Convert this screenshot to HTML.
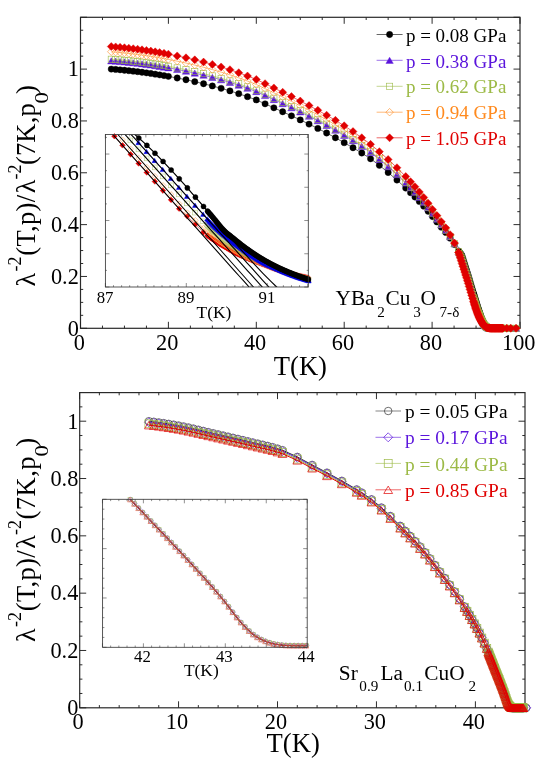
<!DOCTYPE html>
<html><head><meta charset="utf-8"><title>Superfluid density vs temperature</title>
<style>html,body{margin:0;padding:0;background:#fff}body{width:545px;height:771px;overflow:hidden;font-family:"Liberation Serif",serif}svg{display:block;will-change:transform;transform:translateZ(0)}</style>
</head><body>
<svg width="545" height="771" viewBox="0 0 545 771">
<defs>
<marker id="a1" markerUnits="userSpaceOnUse" markerWidth="8.3" markerHeight="8.3" viewBox="-4.15 -4.15 8.3 8.3" refX="0" refY="0" overflow="visible"><circle cx="0" cy="0" r="3.15" fill="#000" stroke="#000" stroke-width="0.4"/></marker>
<marker id="a2" markerUnits="userSpaceOnUse" markerWidth="9.4" markerHeight="9.4" viewBox="-4.7 -4.7 9.4 9.4" refX="0" refY="0" overflow="visible"><path d="M0 -3.1 L3.7 3.1 L-3.7 3.1 Z" fill="#5a14dc" stroke="#5a14dc" stroke-width="0.4"/></marker>
<marker id="a3" markerUnits="userSpaceOnUse" markerWidth="8.2" markerHeight="8.2" viewBox="-4.1 -4.1 8.2 8.2" refX="0" refY="0" overflow="visible"><rect x="-3.1" y="-3.1" width="6.2" height="6.2" fill="none" stroke="#9cba46" stroke-width="0.6"/></marker>
<marker id="a4" markerUnits="userSpaceOnUse" markerWidth="9.5" markerHeight="9.5" viewBox="-4.75 -4.75 9.5 9.5" refX="0" refY="0" overflow="visible"><path d="M0 -3.75 L3.75 0 L0 3.75 L-3.75 0Z" fill="none" stroke="#ff8a1e" stroke-width="0.6"/></marker>
<marker id="a5" markerUnits="userSpaceOnUse" markerWidth="10" markerHeight="10" viewBox="-5 -5 10 10" refX="0" refY="0" overflow="visible"><path d="M0 -4 L4 0 L0 4 L-4 0Z" fill="#e00000" stroke="#e00000" stroke-width="0.4"/></marker>
<marker id="b1" markerUnits="userSpaceOnUse" markerWidth="7.1" markerHeight="7.1" viewBox="-3.55 -3.55 7.1 7.1" refX="0" refY="0" overflow="visible"><circle cx="0" cy="0" r="2.55" fill="#000" stroke="#000" stroke-width="0.4"/></marker>
<marker id="b2" markerUnits="userSpaceOnUse" markerWidth="7.2" markerHeight="7.2" viewBox="-3.6 -3.6 7.2 7.2" refX="0" refY="0" overflow="visible"><path d="M0 -2.2 L2.6 2.2 L-2.6 2.2 Z" fill="#0000e0" stroke="#0000e0" stroke-width="0.4"/></marker>
<marker id="b3" markerUnits="userSpaceOnUse" markerWidth="6.8" markerHeight="6.8" viewBox="-3.4 -3.4 6.8 6.8" refX="0" refY="0" overflow="visible"><rect x="-2.4" y="-2.4" width="4.8" height="4.8" fill="none" stroke="#a8c45c" stroke-width="0.45"/></marker>
<marker id="b4" markerUnits="userSpaceOnUse" markerWidth="7.6" markerHeight="7.6" viewBox="-3.8 -3.8 7.6 7.6" refX="0" refY="0" overflow="visible"><path d="M0 -2.8 L2.8 0 L0 2.8 L-2.8 0Z" fill="none" stroke="#ff9a40" stroke-width="0.5"/></marker>
<marker id="b5" markerUnits="userSpaceOnUse" markerWidth="7.6" markerHeight="7.6" viewBox="-3.8 -3.8 7.6 7.6" refX="0" refY="0" overflow="visible"><path d="M0 -2.8 L2.8 0 L0 2.8 L-2.8 0Z" fill="#e00000" stroke="#e00000" stroke-width="0.4"/></marker>
<marker id="c1" markerUnits="userSpaceOnUse" markerWidth="9.5" markerHeight="9.5" viewBox="-4.75 -4.75 9.5 9.5" refX="0" refY="0" overflow="visible"><circle cx="0" cy="0" r="3.75" fill="none" stroke="#333" stroke-width="0.7"/></marker>
<marker id="c2" markerUnits="userSpaceOnUse" markerWidth="11" markerHeight="11" viewBox="-5.5 -5.5 11 11" refX="0" refY="0" overflow="visible"><path d="M0 -4.5 L4.5 0 L0 4.5 L-4.5 0Z" fill="none" stroke="#5a14dc" stroke-width="0.7"/></marker>
<marker id="c3" markerUnits="userSpaceOnUse" markerWidth="9.9" markerHeight="9.9" viewBox="-4.95 -4.95 9.9 9.9" refX="0" refY="0" overflow="visible"><rect x="-3.95" y="-3.95" width="7.9" height="7.9" fill="none" stroke="#9cba46" stroke-width="0.7"/></marker>
<marker id="c4" markerUnits="userSpaceOnUse" markerWidth="10.8" markerHeight="10.8" viewBox="-5.4 -5.4 10.8 10.8" refX="0" refY="0" overflow="visible"><path d="M0 -3.7 L4.4 3.7 L-4.4 3.7 Z" fill="none" stroke="#e00000" stroke-width="0.7"/></marker>
<marker id="d1" markerUnits="userSpaceOnUse" markerWidth="6.4" markerHeight="6.4" viewBox="-3.2 -3.2 6.4 6.4" refX="0" refY="0" overflow="visible"><circle cx="0" cy="0" r="2.2" fill="none" stroke="#666" stroke-width="0.45"/></marker>
<marker id="d2" markerUnits="userSpaceOnUse" markerWidth="7.4" markerHeight="7.4" viewBox="-3.7 -3.7 7.4 7.4" refX="0" refY="0" overflow="visible"><path d="M0 -2.7 L2.7 0 L0 2.7 L-2.7 0Z" fill="none" stroke="#7a48e4" stroke-width="0.45"/></marker>
<marker id="d3" markerUnits="userSpaceOnUse" markerWidth="6.4" markerHeight="6.4" viewBox="-3.2 -3.2 6.4 6.4" refX="0" refY="0" overflow="visible"><rect x="-2.2" y="-2.2" width="4.4" height="4.4" fill="none" stroke="#a8c45c" stroke-width="0.45"/></marker>
<marker id="d4" markerUnits="userSpaceOnUse" markerWidth="7.2" markerHeight="7.2" viewBox="-3.6 -3.6 7.2 7.2" refX="0" refY="0" overflow="visible"><path d="M0 -2.3 L2.6 2.3 L-2.6 2.3 Z" fill="none" stroke="#ee4a4a" stroke-width="0.5"/></marker>

</defs>
<rect width="545" height="771" fill="#fff"/>
<rect x="80.5" y="17.3" width="439.5" height="311" fill="none" stroke="#2a2a2a" stroke-width="1.2"/>
<path d="M80.5 328.3L80.5 321.8M80.5 17.3L80.5 23.8M102.47 328.3L102.47 325.6M102.47 17.3L102.47 20M124.45 328.3L124.45 325.6M124.45 17.3L124.45 20M146.43 328.3L146.43 325.6M146.43 17.3L146.43 20M168.4 328.3L168.4 321.8M168.4 17.3L168.4 23.8M190.38 328.3L190.38 325.6M190.38 17.3L190.38 20M212.35 328.3L212.35 325.6M212.35 17.3L212.35 20M234.32 328.3L234.32 325.6M234.32 17.3L234.32 20M256.3 328.3L256.3 321.8M256.3 17.3L256.3 23.8M278.27 328.3L278.27 325.6M278.27 17.3L278.27 20M300.25 328.3L300.25 325.6M300.25 17.3L300.25 20M322.23 328.3L322.23 325.6M322.23 17.3L322.23 20M344.2 328.3L344.2 321.8M344.2 17.3L344.2 23.8M366.18 328.3L366.18 325.6M366.18 17.3L366.18 20M388.15 328.3L388.15 325.6M388.15 17.3L388.15 20M410.12 328.3L410.12 325.6M410.12 17.3L410.12 20M432.1 328.3L432.1 321.8M432.1 17.3L432.1 23.8M454.07 328.3L454.07 325.6M454.07 17.3L454.07 20M476.05 328.3L476.05 325.6M476.05 17.3L476.05 20M498.02 328.3L498.02 325.6M498.02 17.3L498.02 20M520 328.3L520 321.8M520 17.3L520 23.8M80.5 328.3L87 328.3M520 328.3L513.5 328.3M80.5 315.34L83.2 315.34M520 315.34L517.3 315.34M80.5 302.38L83.2 302.38M520 302.38L517.3 302.38M80.5 289.42L83.2 289.42M520 289.42L517.3 289.42M80.5 276.46L87 276.46M520 276.46L513.5 276.46M80.5 263.5L83.2 263.5M520 263.5L517.3 263.5M80.5 250.54L83.2 250.54M520 250.54L517.3 250.54M80.5 237.58L83.2 237.58M520 237.58L517.3 237.58M80.5 224.62L87 224.62M520 224.62L513.5 224.62M80.5 211.66L83.2 211.66M520 211.66L517.3 211.66M80.5 198.7L83.2 198.7M520 198.7L517.3 198.7M80.5 185.74L83.2 185.74M520 185.74L517.3 185.74M80.5 172.78L87 172.78M520 172.78L513.5 172.78M80.5 159.82L83.2 159.82M520 159.82L517.3 159.82M80.5 146.86L83.2 146.86M520 146.86L517.3 146.86M80.5 133.9L83.2 133.9M520 133.9L517.3 133.9M80.5 120.94L87 120.94M520 120.94L513.5 120.94M80.5 107.98L83.2 107.98M520 107.98L517.3 107.98M80.5 95.02L83.2 95.02M520 95.02L517.3 95.02M80.5 82.06L83.2 82.06M520 82.06L517.3 82.06M80.5 69.1L87 69.1M520 69.1L513.5 69.1M80.5 56.14L83.2 56.14M520 56.14L517.3 56.14M80.5 43.18L83.2 43.18M520 43.18L517.3 43.18M80.5 30.22L83.2 30.22M520 30.22L517.3 30.22M80.5 17.26L87 17.26M520 17.26L513.5 17.26" stroke="#222" stroke-width="0.95" fill="none"/>
<polyline points="111.27,69.1 115.66,69.44 120.06,69.83 124.45,70.25 128.84,70.7 133.24,71.18 137.63,71.69 142.03,72.24 146.43,72.83 150.82,73.47 155.22,74.14 159.61,74.85 164,75.59 168.4,76.36 177.19,77.99 185.98,79.76 194.77,81.68 203.56,83.74 212.35,85.95 221.14,88.32 229.93,90.89 238.72,93.68 247.51,96.69 256.3,99.94 265.09,103.83 273.88,107.8 282.67,111.77 291.46,115.79 300.25,119.89 309.04,124.1 317.83,128.46 326.62,133.01 335.41,137.77 344.2,142.71 352.99,147.76 361.78,153.02 370.57,158.78 379.36,165.31 388.15,172.5 396.94,180.04 405.73,188.07 410.56,192.65 414.96,196.98 419.35,201.47 423.75,206.18 428.14,211.25 432.54,216.57 436.93,221.95 441.33,227.2 445.72,232.42 450.12,238.18 454.51,244.48 458.56,250.98 459.44,252.08 460.32,253.1 461.19,254.3 462.07,255.98 462.95,258.42 463.83,261.31 464.71,264.2 465.59,267.04 466.47,269.85 467.35,272.67 468.23,275.49 469.11,278.34 469.98,281.22 470.86,284.16 471.74,287.17 472.62,290.2 473.5,293.22 473.94,294.7 474.38,296.16 474.82,297.6 475.26,299.03 475.7,300.47 476.14,301.91 476.58,303.35 477.02,304.78 477.46,306.18 477.9,307.55 478.34,308.88 478.77,310.2 479.21,311.5 479.65,312.77 480.09,313.99 480.53,315.21 480.97,316.41 481.41,317.58 481.85,318.71 482.29,319.78 482.73,320.78 483.17,321.7 483.61,322.54 484.05,323.34 484.49,324.1 484.93,324.8 485.37,325.41 485.81,325.93 486.25,326.35 486.69,326.72 487.13,327.07 487.56,327.38 488,327.65 488.44,327.86 488.88,328 489.32,328.08 489.76,328.14 490.2,328.2 490.64,328.24 491.08,328.28 491.52,328.29 491.96,328.3 492.4,328.3 492.84,328.3 493.28,328.3 493.72,328.3 494.16,328.3 494.6,328.3 495.04,328.3 495.48,328.3 495.92,328.3 496.35,328.3 496.79,328.3 497.23,328.3 497.67,328.3 498.11,328.3 498.55,328.3 498.99,328.3 499.43,328.3 499.87,328.3 500.31,328.3 500.75,328.3 501.19,328.3 501.63,328.3 502.07,328.3 502.51,328.3 502.95,328.3 506.81,328.3 510.77,328.3 516.04,328.3" fill="none" stroke="#000" stroke-width="0.6" marker-start="url(#a1)" marker-mid="url(#a1)" marker-end="url(#a1)"/>
<polyline points="111.27,60.81 115.66,61.12 120.06,61.48 124.45,61.88 128.84,62.31 133.24,62.77 137.63,63.26 142.03,63.78 146.43,64.36 150.82,64.98 155.22,65.64 159.61,66.33 164,67.06 168.4,67.82 177.19,69.43 185.98,71.19 194.77,73.11 203.56,75.17 212.35,77.38 221.14,79.76 229.93,82.36 238.72,85.18 247.51,88.24 256.3,91.54 265.09,95.5 273.88,99.55 282.67,103.61 291.46,107.72 300.25,111.91 309.04,116.23 317.83,120.69 326.62,125.34 335.41,130.21 344.2,135.34 352.99,140.71 361.78,146.38 370.57,152.52 379.36,159.37 388.15,166.84 396.94,174.68 405.73,183.06 410.56,187.89 414.96,192.51 419.35,197.33 423.75,202.38 428.14,207.78 432.54,213.45 436.93,219.19 441.33,224.81 445.72,230.42 450.12,236.66 454.51,243.83 458.56,251.41 459.44,252.91 460.32,254.41 461.19,256.08 462.07,258.12 462.95,260.72 463.83,263.63 464.71,266.48 465.59,269.29 466.47,272.1 467.35,274.92 468.23,277.77 469.11,280.64 469.98,283.56 470.86,286.56 471.74,289.6 472.62,292.62 473.5,295.58 473.94,297.03 474.38,298.45 474.82,299.89 475.26,301.33 475.7,302.78 476.14,304.21 476.58,305.62 477.02,307 477.46,308.35 477.9,309.66 478.34,310.91 478.77,312.13 479.21,313.3 479.65,314.45 480.09,315.6 480.53,316.72 480.97,317.82 481.41,318.88 481.85,319.89 482.29,320.83 482.73,321.7 483.17,322.51 483.61,323.29 484.05,324.02 484.49,324.7 484.93,325.31 485.37,325.83 485.81,326.25 486.25,326.61 486.69,326.95 487.13,327.26 487.56,327.53 488,327.76 488.44,327.93 488.88,328.04 489.32,328.11 489.76,328.16 490.2,328.22 490.64,328.25 491.08,328.28 491.52,328.3 491.96,328.3 492.4,328.3 492.84,328.3 493.28,328.3 493.72,328.3 494.16,328.3 494.6,328.3 495.04,328.3 495.48,328.3 495.92,328.3 496.35,328.3 496.79,328.3 497.23,328.3 497.67,328.3 498.11,328.3 498.55,328.3 498.99,328.3 499.43,328.3 499.87,328.3 500.31,328.3 500.75,328.3 501.19,328.3 501.63,328.3 502.07,328.3 502.51,328.3 502.95,328.3 506.81,328.3 510.77,328.3 516.04,328.3" fill="none" stroke="#5a14dc" stroke-width="0.6" marker-start="url(#a2)" marker-mid="url(#a2)" marker-end="url(#a2)"/>
<polyline points="111.27,59.25 115.66,59.57 120.06,59.93 124.45,60.33 128.84,60.76 133.24,61.23 137.63,61.72 142.03,62.25 146.43,62.82 150.82,63.45 155.22,64.11 159.61,64.81 164,65.55 168.4,66.31 177.19,67.93 185.98,69.7 194.77,71.63 203.56,73.7 212.35,75.93 221.14,78.32 229.93,80.94 238.72,83.77 247.51,86.85 256.3,90.17 265.09,94.16 273.88,98.23 282.67,102.31 291.46,106.45 300.25,110.66 309.04,115 317.83,119.49 326.62,124.17 335.41,129.07 344.2,134.23 352.99,139.64 361.78,145.37 370.57,151.58 379.36,158.47 388.15,165.99 396.94,173.87 405.73,182.31 410.56,187.17 414.96,191.84 419.35,196.7 423.75,201.8 428.14,207.26 432.54,212.98 436.93,218.77 441.33,224.44 445.72,230.11 450.12,236.43 454.51,243.75 458.56,251.72 459.44,253.55 460.32,255.42 461.19,257.45 462.07,259.76 462.95,262.46 463.83,265.35 464.71,268.17 465.59,270.98 466.47,273.79 467.35,276.63 468.23,279.49 469.11,282.38 469.98,285.36 470.86,288.38 471.74,291.42 472.62,294.41 473.5,297.31 473.94,298.74 474.38,300.18 474.82,301.62 475.26,303.06 475.7,304.49 476.14,305.9 476.58,307.28 477.02,308.62 477.46,309.91 477.9,311.15 478.34,312.33 478.77,313.46 479.21,314.57 479.65,315.68 480.09,316.76 480.53,317.81 480.97,318.83 481.41,319.8 481.85,320.71 482.29,321.56 482.73,322.35 483.17,323.1 483.61,323.83 484.05,324.51 484.49,325.12 484.93,325.65 485.37,326.09 485.81,326.45 486.25,326.79 486.69,327.11 487.13,327.39 487.56,327.64 488,327.83 488.44,327.98 488.88,328.06 489.32,328.12 489.76,328.18 490.2,328.23 490.64,328.26 491.08,328.29 491.52,328.3 491.96,328.3 492.4,328.3 492.84,328.3 493.28,328.3 493.72,328.3 494.16,328.3 494.6,328.3 495.04,328.3 495.48,328.3 495.92,328.3 496.35,328.3 496.79,328.3 497.23,328.3 497.67,328.3 498.11,328.3 498.55,328.3 498.99,328.3 499.43,328.3 499.87,328.3 500.31,328.3 500.75,328.3 501.19,328.3 501.63,328.3 502.07,328.3 502.51,328.3 502.95,328.3 506.81,328.3 510.77,328.3 516.04,328.3" fill="none" stroke="#9cba46" stroke-width="0.6" marker-start="url(#a3)" marker-mid="url(#a3)" marker-end="url(#a3)"/>
<polyline points="111.27,51.73 115.66,52.1 120.06,52.5 124.45,52.94 128.84,53.42 133.24,53.93 137.63,54.47 142.03,55.04 146.43,55.67 150.82,56.35 155.22,57.06 159.61,57.81 164,58.6 168.4,59.41 177.19,61.14 185.98,63.02 194.77,65.06 203.56,67.25 212.35,69.59 221.14,72.12 229.93,74.85 238.72,77.82 247.51,81.02 256.3,84.49 265.09,88.63 273.88,92.85 282.67,97.09 291.46,101.37 300.25,105.74 309.04,110.23 317.83,114.87 326.62,119.7 335.41,124.74 344.2,130.07 352.99,135.69 361.78,141.63 370.57,148.05 379.36,155.12 388.15,162.79 396.94,170.85 405.73,179.48 410.56,184.48 414.96,189.31 419.35,194.36 423.75,199.66 428.14,205.3 432.54,211.22 436.93,217.22 441.33,223.09 445.72,228.98 450.12,235.57 454.51,243.39 458.56,252.2 459.44,254.53 460.32,256.98 461.19,259.55 462.07,262.24 462.95,265.06 463.83,267.88 464.71,270.7 465.59,273.51 466.47,276.34 467.35,279.2 468.23,282.09 469.11,285.06 469.98,288.08 470.86,291.11 471.74,294.11 472.62,297.03 473.5,299.89 473.94,301.33 474.38,302.78 474.82,304.21 475.26,305.62 475.7,307 476.14,308.35 476.58,309.66 477.02,310.91 477.46,312.1 477.9,313.23 478.34,314.31 478.77,315.38 479.21,316.42 479.65,317.43 480.09,318.41 480.53,319.35 480.97,320.24 481.41,321.07 481.85,321.85 482.29,322.57 482.73,323.28 483.17,323.96 483.61,324.59 484.05,325.17 484.49,325.67 484.93,326.09 485.37,326.43 485.81,326.75 486.25,327.05 486.69,327.33 487.13,327.57 487.56,327.77 488,327.93 488.44,328.03 488.88,328.09 489.32,328.15 489.76,328.2 490.2,328.24 490.64,328.27 491.08,328.29 491.52,328.3 491.96,328.3 492.4,328.3 492.84,328.3 493.28,328.3 493.72,328.3 494.16,328.3 494.6,328.3 495.04,328.3 495.48,328.3 495.92,328.3 496.35,328.3 496.79,328.3 497.23,328.3 497.67,328.3 498.11,328.3 498.55,328.3 498.99,328.3 499.43,328.3 499.87,328.3 500.31,328.3 500.75,328.3 501.19,328.3 501.63,328.3 502.07,328.3 502.51,328.3 502.95,328.3 506.81,328.3 510.77,328.3 516.04,328.3" fill="none" stroke="#ff8a1e" stroke-width="0.6" marker-start="url(#a4)" marker-mid="url(#a4)" marker-end="url(#a4)"/>
<polyline points="111.27,46.55 115.66,46.9 120.06,47.3 124.45,47.73 128.84,48.2 133.24,48.71 137.63,49.24 142.03,49.81 146.43,50.43 150.82,51.11 155.22,51.82 159.61,52.57 164,53.35 168.4,54.17 177.19,55.9 185.98,57.79 194.77,59.83 203.56,62.04 212.35,64.4 221.14,66.94 229.93,69.7 238.72,72.7 247.51,75.94 256.3,79.45 265.09,83.65 273.88,87.93 282.67,92.23 291.46,96.58 300.25,101.01 309.04,105.57 317.83,110.29 326.62,115.18 335.41,120.31 344.2,125.75 352.99,131.55 361.78,137.73 370.57,144.37 379.36,151.63 388.15,159.47 396.94,167.7 405.73,176.54 410.56,181.68 414.96,186.69 419.35,191.93 423.75,197.42 428.14,203.27 432.54,209.39 436.93,215.6 441.33,221.68 445.72,227.8 450.12,234.68 454.51,243.01 458.56,252.47 459.44,255.09 460.32,257.86 461.19,260.73 462.07,263.63 462.95,266.48 463.83,269.29 464.71,272.1 465.59,274.92 466.47,277.77 467.35,280.64 468.23,283.56 469.11,286.56 469.98,289.6 470.86,292.62 471.74,295.58 472.62,298.45 473.5,301.33 473.94,302.78 474.38,304.21 474.82,305.62 475.26,307 475.7,308.35 476.14,309.66 476.58,310.91 477.02,312.1 477.46,313.23 477.9,314.31 478.34,315.37 478.77,316.4 479.21,317.4 479.65,318.36 480.09,319.28 480.53,320.15 480.97,320.96 481.41,321.72 481.85,322.43 482.29,323.11 482.73,323.78 483.17,324.4 483.61,324.98 484.05,325.49 484.49,325.93 484.93,326.29 485.37,326.61 485.81,326.91 486.25,327.19 486.69,327.44 487.13,327.66 487.56,327.84 488,327.97 488.44,328.05 488.88,328.11 489.32,328.17 489.76,328.21 490.2,328.25 490.64,328.28 491.08,328.3 491.52,328.3 491.96,328.3 492.4,328.3 492.84,328.3 493.28,328.3 493.72,328.3 494.16,328.3 494.6,328.3 495.04,328.3 495.48,328.3 495.92,328.3 496.35,328.3 496.79,328.3 497.23,328.3 497.67,328.3 498.11,328.3 498.55,328.3 498.99,328.3 499.43,328.3 499.87,328.3 500.31,328.3 500.75,328.3 501.19,328.3 501.63,328.3 502.07,328.3 502.51,328.3 502.95,328.3 506.81,328.3 510.77,328.3 516.04,328.3" fill="none" stroke="#e00000" stroke-width="0.6" marker-start="url(#a5)" marker-mid="url(#a5)" marker-end="url(#a5)"/>
<text x="79.3" y="349.6" font-family="Liberation Serif, serif" font-size="22.3" text-anchor="middle">0</text>
<text x="167.2" y="349.6" font-family="Liberation Serif, serif" font-size="22.3" text-anchor="middle">20</text>
<text x="255.1" y="349.6" font-family="Liberation Serif, serif" font-size="22.3" text-anchor="middle">40</text>
<text x="343" y="349.6" font-family="Liberation Serif, serif" font-size="22.3" text-anchor="middle">60</text>
<text x="430.9" y="349.6" font-family="Liberation Serif, serif" font-size="22.3" text-anchor="middle">80</text>
<text x="518.8" y="349.6" font-family="Liberation Serif, serif" font-size="22.3" text-anchor="middle">100</text>
<text x="78.8" y="335.6" font-family="Liberation Serif, serif" font-size="22.3" text-anchor="end">0</text>
<text x="78.8" y="283.76" font-family="Liberation Serif, serif" font-size="22.3" text-anchor="end">0.2</text>
<text x="78.8" y="231.92" font-family="Liberation Serif, serif" font-size="22.3" text-anchor="end">0.4</text>
<text x="78.8" y="180.08" font-family="Liberation Serif, serif" font-size="22.3" text-anchor="end">0.6</text>
<text x="78.8" y="128.24" font-family="Liberation Serif, serif" font-size="22.3" text-anchor="end">0.8</text>
<text x="78.8" y="76.4" font-family="Liberation Serif, serif" font-size="22.3" text-anchor="end">1</text>
<text x="300.4" y="375" font-family="Liberation Serif, serif" font-size="26.6" text-anchor="middle">T(K)</text>
<g transform="translate(34.9,285.7) rotate(-90)" font-family="Liberation Serif, serif"><text x="-0.8" y="0" font-size="28">λ</text><text x="14.3" y="-14.3" font-size="18">-2</text><text x="30" y="0" font-size="26.6" letter-spacing="0.3">(T,p)/</text><text x="92.5" y="0" font-size="28">λ</text><text x="106.3" y="-14.3" font-size="18">-2</text><text x="120.72" y="0" font-size="26.6" letter-spacing="0.1">(7K,p</text><text transform="translate(182.32,12.8) scale(1.25,1)" font-size="18">0</text><text x="191.7" y="0" font-size="26.6">)</text></g>
<polyline points="376.6,34.5 389.6,34.5 402.6,34.5" fill="none" stroke="#000" stroke-width="0.6" marker-mid="url(#a1)"/>
<text x="405.9" y="42.1" font-family="Liberation Serif, serif" font-size="19" fill="#000">p = 0.08 GPa</text>
<polyline points="376.6,60.3 389.6,60.3 402.6,60.3" fill="none" stroke="#5a14dc" stroke-width="0.6" marker-mid="url(#a2)"/>
<text x="405.9" y="67.5" font-family="Liberation Serif, serif" font-size="19" fill="#5a14dc">p = 0.38 GPa</text>
<polyline points="376.6,86.3 389.6,86.3 402.6,86.3" fill="none" stroke="#9cba46" stroke-width="0.6" marker-mid="url(#a3)"/>
<text x="405.9" y="93.1" font-family="Liberation Serif, serif" font-size="19" fill="#9cba46">p = 0.62 GPa</text>
<polyline points="376.6,112.2 389.6,112.2 402.6,112.2" fill="none" stroke="#ff8a1e" stroke-width="0.6" marker-mid="url(#a4)"/>
<text x="405.9" y="119.2" font-family="Liberation Serif, serif" font-size="19" fill="#ff8a1e">p = 0.94 GPa</text>
<polyline points="376.6,137.8 389.6,137.8 402.6,137.8" fill="none" stroke="#e00000" stroke-width="0.6" marker-mid="url(#a5)"/>
<text x="405.9" y="144.5" font-family="Liberation Serif, serif" font-size="19" fill="#e00000">p = 1.05 GPa</text>
<text x="335.5" y="304.5" font-family="Liberation Serif, serif" font-size="21.3">YBa</text>
<text x="377.3" y="317.3" font-family="Liberation Serif, serif" font-size="15.2">2</text>
<text x="385.5" y="304.5" font-family="Liberation Serif, serif" font-size="21.3">Cu</text>
<text x="413.3" y="317.3" font-family="Liberation Serif, serif" font-size="15.2">3</text>
<text x="420.6" y="304.5" font-family="Liberation Serif, serif" font-size="21.3">O</text>
<text x="439.5" y="317.3" font-family="Liberation Serif, serif" font-size="15.2">7-δ</text>
<clipPath id="cpi1"><rect x="102.4" y="131.5" width="208.9" height="158.5"/></clipPath>
<clipPath id="cpi1b"><rect x="105.4" y="134.5" width="202.9" height="152.5"/></clipPath>
<polyline points="114.4,136.25 122.49,145.31 130.58,154.37 138.67,163.43 146.76,172.49 154.85,181.55 162.94,190.61 171.03,199.86 179.12,208.69 187.21,216.31 195.3,224.5 203.39,232.35 207.44,235.54 208.44,236.28 209.44,237.01 210.44,237.73 211.44,238.43 212.44,239.12 213.44,239.8 214.44,240.47 215.44,241.13 216.44,241.79 217.44,242.44 218.44,243.08 219.44,243.72 220.44,244.33 221.44,244.94 222.44,245.54 223.44,246.12 224.44,246.7 225.44,247.28 226.44,247.85 227.44,248.43 228.44,249 229.44,249.58 230.44,250.16 231.44,250.75 232.44,251.34 233.44,251.9 234.44,252.43 235.44,252.93 236.44,253.42 237.44,253.9 238.44,254.37 239.44,254.84 240.44,255.29 241.44,255.73 242.44,256.17 243.44,256.6 244.44,257.03 245.44,257.45 246.44,257.87 247.44,258.28 248.44,258.69 249.44,259.1 250.44,259.5 251.44,259.9 252.44,260.29 253.44,260.67 254.44,261.05 255.44,261.42 256.44,261.79 257.44,262.16 258.44,262.53 259.44,262.9 260.44,263.27 261.44,263.64 262.44,264.01 263.44,264.39 264.44,264.77 265.44,265.15 266.44,265.54 267.44,265.93 268.44,266.32 269.44,266.72 270.44,267.1 271.44,267.49 272.44,267.87 273.44,268.24 274.44,268.6 275.44,268.95 276.44,269.3 277.44,269.65 278.44,269.99 279.44,270.32 280.44,270.66 281.44,270.98 282.44,271.3 283.44,271.62 284.44,271.93 285.44,272.23 286.44,272.53 287.44,272.82 288.44,273.11 289.44,273.4 290.44,273.68 291.44,273.96 292.44,274.23 293.44,274.5 294.44,274.76 295.44,275.01 296.44,275.26 297.44,275.51 298.44,275.74 299.44,275.97 300.44,276.2 301.44,276.42 302.44,276.63 303.44,276.85 304.44,277.06 305.44,277.27 306.44,277.48 307.44,277.68 308.44,277.89" fill="none" stroke="#e00000" stroke-width="0.5" marker-start="url(#b5)" marker-mid="url(#b5)" marker-end="url(#b5)" clip-path="url(#cpi1)"/>
<polyline points="122.6,139.85 130.69,148.95 138.78,158.05 146.87,167.15 154.96,176.25 163.05,185.36 171.14,194.46 179.23,203.74 187.32,212.63 195.41,220.33 203.5,228.14 207.55,231.77 208.55,232.65 209.55,233.53 210.55,234.39 211.55,235.25 212.55,236.09 213.55,236.92 214.55,237.73 215.55,238.53 216.55,239.3 217.55,240.06 218.55,240.79 219.55,241.51 220.55,242.2 221.55,242.87 222.55,243.52 223.55,244.16 224.55,244.79 225.55,245.4 226.55,246.01 227.55,246.6 228.55,247.19 229.55,247.77 230.55,248.34 231.55,248.91 232.55,249.48 233.55,250.04 234.55,250.61 235.55,251.18 236.55,251.74 237.55,252.31 238.55,252.87 239.55,253.42 240.55,253.97 241.55,254.51 242.55,255.05 243.55,255.57 244.55,256.09 245.55,256.59 246.55,257.09 247.55,257.57 248.55,258.03 249.55,258.48 250.55,258.92 251.55,259.34 252.55,259.76 253.55,260.16 254.55,260.56 255.55,260.95 256.55,261.33 257.55,261.72 258.55,262.1 259.55,262.48 260.55,262.86 261.55,263.24 262.55,263.63 263.55,264.02 264.55,264.42 265.55,264.82 266.55,265.23 267.55,265.64 268.55,266.05 269.55,266.46 270.55,266.87 271.55,267.27 272.55,267.66 273.55,268.05 274.55,268.43 275.55,268.8 276.55,269.17 277.55,269.53 278.55,269.89 279.55,270.24 280.55,270.59 281.55,270.93 282.55,271.27 283.55,271.6 284.55,271.93 285.55,272.26 286.55,272.58 287.55,272.89 288.55,273.21 289.55,273.52 290.55,273.83 291.55,274.13 292.55,274.43 293.55,274.72 294.55,275.01 295.55,275.3 296.55,275.58 297.55,275.85 298.55,276.12 299.55,276.39 300.55,276.65 301.55,276.9 302.55,277.16 303.55,277.41 304.55,277.66 305.55,277.9 306.55,278.15 307.55,278.39 308.55,278.63" fill="none" stroke="#ff8a1e" stroke-width="0.5" marker-start="url(#b4)" marker-mid="url(#b4)" marker-end="url(#b4)" clip-path="url(#cpi1)"/>
<polyline points="130.4,140.44 138.49,149.43 146.58,158.43 154.67,167.43 162.76,176.42 170.85,185.42 178.94,194.41 187.03,203.41 195.12,212.57 203.21,221.38 207.26,225.37 208.26,226.31 209.26,227.23 210.26,228.14 211.26,229.03 212.26,229.9 213.26,230.75 214.26,231.59 215.26,232.41 216.26,233.22 217.26,234.02 218.26,234.81 219.26,235.59 220.26,236.37 221.26,237.14 222.26,237.92 223.26,238.69 224.26,239.45 225.26,240.21 226.26,240.96 227.26,241.7 228.26,242.43 229.26,243.15 230.26,243.86 231.26,244.56 232.26,245.24 233.26,245.91 234.26,246.57 235.26,247.21 236.26,247.85 237.26,248.48 238.26,249.1 239.26,249.71 240.26,250.31 241.26,250.9 242.26,251.48 243.26,252.05 244.26,252.62 245.26,253.17 246.26,253.72 247.26,254.25 248.26,254.77 249.26,255.29 250.26,255.78 251.26,256.27 252.26,256.74 253.26,257.2 254.26,257.65 255.26,258.09 256.26,258.54 257.26,258.97 258.26,259.41 259.26,259.85 260.26,260.29 261.26,260.74 262.26,261.19 263.26,261.65 264.26,262.12 265.26,262.61 266.26,263.1 267.26,263.6 268.26,264.1 269.26,264.61 270.26,265.11 271.26,265.61 272.26,266.11 273.26,266.59 274.26,267.06 275.26,267.52 276.26,267.96 277.26,268.4 278.26,268.84 279.26,269.26 280.26,269.69 281.26,270.1 282.26,270.51 283.26,270.92 284.26,271.32 285.26,271.71 286.26,272.1 287.26,272.49 288.26,272.87 289.26,273.24 290.26,273.61 291.26,273.98 292.26,274.34 293.26,274.7 294.26,275.05 295.26,275.4 296.26,275.75 297.26,276.09 298.26,276.42 299.26,276.76 300.26,277.09 301.26,277.41 302.26,277.73 303.26,278.05 304.26,278.36 305.26,278.67 306.26,278.98 307.26,279.28 308.26,279.58 309.26,279.87" fill="none" stroke="#9cba46" stroke-width="0.5" marker-start="url(#b3)" marker-mid="url(#b3)" marker-end="url(#b3)" clip-path="url(#cpi1)"/>
<polyline points="138.4,142.52 146.49,151.48 154.58,160.44 162.67,169.41 170.76,178.37 178.85,187.34 186.94,196.3 195.03,205.24 203.12,214.19 207.17,218.84 208.17,220.03 209.17,221.19 210.17,222.32 211.17,223.38 212.17,224.38 213.17,225.36 214.17,226.31 215.17,227.24 216.17,228.14 217.17,229.04 218.17,229.92 219.17,230.8 220.17,231.67 221.17,232.54 222.17,233.4 223.17,234.24 224.17,235.08 225.17,235.91 226.17,236.73 227.17,237.55 228.17,238.35 229.17,239.15 230.17,239.95 231.17,240.73 232.17,241.51 233.17,242.28 234.17,243.04 235.17,243.8 236.17,244.55 237.17,245.29 238.17,246.02 239.17,246.76 240.17,247.48 241.17,248.2 242.17,248.92 243.17,249.64 244.17,250.35 245.17,251.06 246.17,251.77 247.17,252.47 248.17,253.17 249.17,253.86 250.17,254.53 251.17,255.2 252.17,255.86 253.17,256.51 254.17,257.15 255.17,257.79 256.17,258.42 257.17,259.05 258.17,259.67 259.17,260.28 260.17,260.87 261.17,261.45 262.17,262.02 263.17,262.56 264.17,263.09 265.17,263.59 266.17,264.08 267.17,264.55 268.17,265.01 269.17,265.45 270.17,265.89 271.17,266.33 272.17,266.76 273.17,267.2 274.17,267.63 275.17,268.08 276.17,268.52 277.17,268.97 278.17,269.42 279.17,269.87 280.17,270.31 281.17,270.76 282.17,271.19 283.17,271.62 284.17,272.05 285.17,272.46 286.17,272.87 287.17,273.27 288.17,273.66 289.17,274.05 290.17,274.43 291.17,274.81 292.17,275.18 293.17,275.55 294.17,275.91 295.17,276.26 296.17,276.61 297.17,276.96 298.17,277.3 299.17,277.63 300.17,277.96 301.17,278.29 302.17,278.61 303.17,278.92 304.17,279.24 305.17,279.54 306.17,279.85 307.17,280.15 308.17,280.45 309.17,280.74" fill="none" stroke="#0000e0" stroke-width="0.5" marker-start="url(#b2)" marker-mid="url(#b2)" marker-end="url(#b2)" clip-path="url(#cpi1)"/>
<polyline points="138.8,137.96 146.89,145.38 154.98,153.23 163.07,161.47 171.16,170.03 179.25,178.86 187.34,187.91 195.43,197.13 203.52,206.48 207.57,211.17 208.57,212.33 209.57,213.48 210.57,214.64 211.57,215.8 212.57,216.99 213.57,218.21 214.57,219.43 215.57,220.67 216.57,221.91 217.57,223.15 218.57,224.38 219.57,225.59 220.57,226.77 221.57,227.93 222.57,229.05 223.57,230.13 224.57,231.16 225.57,232.13 226.57,233.03 227.57,233.86 228.57,234.64 229.57,235.4 230.57,236.16 231.57,236.96 232.57,237.76 233.57,238.57 234.57,239.38 235.57,240.2 236.57,241.01 237.57,241.82 238.57,242.62 239.57,243.42 240.57,244.2 241.57,244.97 242.57,245.73 243.57,246.48 244.57,247.23 245.57,247.96 246.57,248.7 247.57,249.42 248.57,250.14 249.57,250.84 250.57,251.54 251.57,252.23 252.57,252.91 253.57,253.58 254.57,254.24 255.57,254.9 256.57,255.55 257.57,256.19 258.57,256.82 259.57,257.44 260.57,258.06 261.57,258.67 262.57,259.26 263.57,259.85 264.57,260.43 265.57,261 266.57,261.56 267.57,262.11 268.57,262.66 269.57,263.2 270.57,263.73 271.57,264.25 272.57,264.77 273.57,265.28 274.57,265.79 275.57,266.28 276.57,266.77 277.57,267.26 278.57,267.74 279.57,268.21 280.57,268.68 281.57,269.14 282.57,269.59 283.57,270.04 284.57,270.48 285.57,270.91 286.57,271.34 287.57,271.77 288.57,272.19 289.57,272.6 290.57,273.01 291.57,273.41 292.57,273.81 293.57,274.2 294.57,274.58 295.57,274.96 296.57,275.34 297.57,275.71 298.57,276.07 299.57,276.43 300.57,276.79 301.57,277.14 302.57,277.48 303.57,277.82 304.57,278.16 305.57,278.5 306.57,278.83 307.57,279.16 308.57,279.49" fill="none" stroke="#000" stroke-width="0.5" marker-start="url(#b1)" marker-mid="url(#b1)" marker-end="url(#b1)" clip-path="url(#cpi1)"/>
<polyline points="103.4,123.93 107.4,128.41 111.4,132.89 115.4,137.37 119.4,141.85 123.4,146.33 127.4,150.81 131.4,155.29 135.4,159.77 139.4,164.25 143.4,168.73 147.4,173.21 151.4,177.69 155.4,182.17 159.4,186.65 163.4,191.13 167.4,195.61 171.4,200.09 175.4,204.57 179.4,209.05 183.4,213.53 187.4,218.01 191.4,222.49 195.4,226.97 199.4,231.45 203.4,235.93 207.4,240.41 211.4,244.89 215.4,249.37 219.4,253.85 223.4,258.33 227.4,262.81 231.4,267.29 235.4,271.77 239.4,276.25 243.4,280.73 247.4,285.21 251.4,289.69 255.4,294.17 259.4,298.65 263.4,303.13 267.4,307.61 271.4,312.09 275.4,316.57 279.4,321.05 283.4,325.53 287.4,330.01 291.4,334.49 295.4,338.97 299.4,343.45 303.4,347.93 307.4,352.41" fill="none" stroke="#000" stroke-width="1.1" clip-path="url(#cpi1b)"/>
<polyline points="103.4,118.25 107.4,122.75 111.4,127.25 115.4,131.75 119.4,136.25 123.4,140.75 127.4,145.25 131.4,149.75 135.4,154.25 139.4,158.75 143.4,163.25 147.4,167.75 151.4,172.25 155.4,176.75 159.4,181.25 163.4,185.75 167.4,190.25 171.4,194.75 175.4,199.25 179.4,203.75 183.4,208.25 187.4,212.75 191.4,217.25 195.4,221.75 199.4,226.25 203.4,230.75 207.4,235.25 211.4,239.75 215.4,244.25 219.4,248.75 223.4,253.25 227.4,257.75 231.4,262.25 235.4,266.75 239.4,271.25 243.4,275.75 247.4,280.25 251.4,284.75 255.4,289.25 259.4,293.75 263.4,298.25 267.4,302.75 271.4,307.25 275.4,311.75 279.4,316.25 283.4,320.75 287.4,325.25 291.4,329.75 295.4,334.25 299.4,338.75 303.4,343.25 307.4,347.75" fill="none" stroke="#000" stroke-width="1.1" clip-path="url(#cpi1b)"/>
<polyline points="103.4,110.41 107.4,114.86 111.4,119.31 115.4,123.76 119.4,128.21 123.4,132.65 127.4,137.1 131.4,141.55 135.4,146 139.4,150.45 143.4,154.89 147.4,159.34 151.4,163.79 155.4,168.24 159.4,172.69 163.4,177.13 167.4,181.58 171.4,186.03 175.4,190.48 179.4,194.93 183.4,199.37 187.4,203.82 191.4,208.27 195.4,212.72 199.4,217.17 203.4,221.61 207.4,226.06 211.4,230.51 215.4,234.96 219.4,239.41 223.4,243.85 227.4,248.3 231.4,252.75 235.4,257.2 239.4,261.65 243.4,266.09 247.4,270.54 251.4,274.99 255.4,279.44 259.4,283.89 263.4,288.33 267.4,292.78 271.4,297.23 275.4,301.68 279.4,306.13 283.4,310.57 287.4,315.02 291.4,319.47 295.4,323.92 299.4,328.37 303.4,332.81 307.4,337.26" fill="none" stroke="#000" stroke-width="1.1" clip-path="url(#cpi1b)"/>
<polyline points="103.4,103.74 107.4,108.17 111.4,112.6 115.4,117.03 119.4,121.46 123.4,125.9 127.4,130.33 131.4,134.76 135.4,139.19 139.4,143.62 143.4,148.06 147.4,152.49 151.4,156.92 155.4,161.35 159.4,165.78 163.4,170.22 167.4,174.65 171.4,179.08 175.4,183.51 179.4,187.94 183.4,192.38 187.4,196.81 191.4,201.24 195.4,205.67 199.4,210.1 203.4,214.54 207.4,218.97 211.4,223.4 215.4,227.83 219.4,232.26 223.4,236.7 227.4,241.13 231.4,245.56 235.4,249.99 239.4,254.42 243.4,258.86 247.4,263.29 251.4,267.72 255.4,272.15 259.4,276.58 263.4,281.02 267.4,285.45 271.4,289.88 275.4,294.31 279.4,298.74 283.4,303.18 287.4,307.61 291.4,312.04 295.4,316.47 299.4,320.9 303.4,325.34 307.4,329.77" fill="none" stroke="#000" stroke-width="1.1" clip-path="url(#cpi1b)"/>
<polyline points="103.4,111.95 107.4,114.28 111.4,116.78 115.4,119.44 119.4,122.26 123.4,125.23 127.4,128.35 131.4,131.6 135.4,134.99 139.4,138.5 143.4,142.13 147.4,145.86 151.4,149.71 155.4,153.65 159.4,157.69 163.4,161.81 167.4,166.01 171.4,170.28 175.4,174.62 179.4,179.02 183.4,183.48 187.4,187.98 191.4,192.52 195.4,197.09 199.4,201.7 203.4,206.32 207.4,210.96 211.4,215.6 215.4,220.25 219.4,224.89 223.4,229.53 227.4,234.14 231.4,238.73 235.4,243.29 239.4,247.81 243.4,252.28 247.4,256.71 251.4,261.08 255.4,265.39 259.4,269.63 263.4,273.79 267.4,277.87 271.4,281.86 275.4,285.75 279.4,289.54 283.4,293.22 287.4,296.79 291.4,300.24 295.4,303.56 299.4,306.74 303.4,309.78 307.4,312.68" fill="none" stroke="#000" stroke-width="1.1" clip-path="url(#cpi1b)"/>
<rect x="105.4" y="134.5" width="202.9" height="152.5" fill="none" stroke="#3a3a3a" stroke-width="0.85"/>
<path d="M105.4 287L105.4 283M105.4 134.5L105.4 138.5M113.49 287L113.49 285.2M113.49 134.5L113.49 136.3M121.58 287L121.58 285.2M121.58 134.5L121.58 136.3M129.67 287L129.67 285.2M129.67 134.5L129.67 136.3M137.76 287L137.76 285.2M137.76 134.5L137.76 136.3M145.85 287L145.85 284M145.85 134.5L145.85 137.5M153.94 287L153.94 285.2M153.94 134.5L153.94 136.3M162.03 287L162.03 285.2M162.03 134.5L162.03 136.3M170.12 287L170.12 285.2M170.12 134.5L170.12 136.3M178.21 287L178.21 285.2M178.21 134.5L178.21 136.3M186.3 287L186.3 283M186.3 134.5L186.3 138.5M194.39 287L194.39 285.2M194.39 134.5L194.39 136.3M202.48 287L202.48 285.2M202.48 134.5L202.48 136.3M210.57 287L210.57 285.2M210.57 134.5L210.57 136.3M218.66 287L218.66 285.2M218.66 134.5L218.66 136.3M226.75 287L226.75 284M226.75 134.5L226.75 137.5M234.84 287L234.84 285.2M234.84 134.5L234.84 136.3M242.93 287L242.93 285.2M242.93 134.5L242.93 136.3M251.02 287L251.02 285.2M251.02 134.5L251.02 136.3M259.11 287L259.11 285.2M259.11 134.5L259.11 136.3M267.2 287L267.2 283M267.2 134.5L267.2 138.5M275.29 287L275.29 285.2M275.29 134.5L275.29 136.3M283.38 287L283.38 285.2M283.38 134.5L283.38 136.3M291.47 287L291.47 285.2M291.47 134.5L291.47 136.3M299.56 287L299.56 285.2M299.56 134.5L299.56 136.3M307.65 287L307.65 284M307.65 134.5L307.65 137.5M105.4 287L109.4 287M308.3 287L304.3 287M105.4 270.38L107 270.38M308.3 270.38L306.7 270.38M105.4 253.76L109.4 253.76M308.3 253.76L304.3 253.76M105.4 237.14L107 237.14M308.3 237.14L306.7 237.14M105.4 220.52L109.4 220.52M308.3 220.52L304.3 220.52M105.4 203.9L107 203.9M308.3 203.9L306.7 203.9M105.4 187.28L109.4 187.28M308.3 187.28L304.3 187.28M105.4 170.66L107 170.66M308.3 170.66L306.7 170.66M105.4 154.04L109.4 154.04M308.3 154.04L304.3 154.04M105.4 137.42L107 137.42M308.3 137.42L306.7 137.42" stroke="#333" stroke-width="0.55" fill="none"/>
<text x="105.1" y="303.2" font-family="Liberation Serif, serif" font-size="16.8" text-anchor="middle">87</text>
<text x="186" y="303.2" font-family="Liberation Serif, serif" font-size="16.8" text-anchor="middle">89</text>
<text x="266.9" y="303.2" font-family="Liberation Serif, serif" font-size="16.8" text-anchor="middle">91</text>
<text x="214.0" y="317.6" font-family="Liberation Serif, serif" font-size="17.4" text-anchor="middle">T(K)</text>
<rect x="79.7" y="392.6" width="445.3" height="315.2" fill="none" stroke="#2a2a2a" stroke-width="1.2"/>
<path d="M79.6 707.8L79.6 701.3M79.6 392.6L79.6 399.1M99.39 707.8L99.39 705.1M99.39 392.6L99.39 395.3M119.18 707.8L119.18 705.1M119.18 392.6L119.18 395.3M138.97 707.8L138.97 705.1M138.97 392.6L138.97 395.3M158.76 707.8L158.76 705.1M158.76 392.6L158.76 395.3M178.55 707.8L178.55 701.3M178.55 392.6L178.55 399.1M198.34 707.8L198.34 705.1M198.34 392.6L198.34 395.3M218.13 707.8L218.13 705.1M218.13 392.6L218.13 395.3M237.92 707.8L237.92 705.1M237.92 392.6L237.92 395.3M257.71 707.8L257.71 705.1M257.71 392.6L257.71 395.3M277.5 707.8L277.5 701.3M277.5 392.6L277.5 399.1M297.29 707.8L297.29 705.1M297.29 392.6L297.29 395.3M317.08 707.8L317.08 705.1M317.08 392.6L317.08 395.3M336.87 707.8L336.87 705.1M336.87 392.6L336.87 395.3M356.66 707.8L356.66 705.1M356.66 392.6L356.66 395.3M376.45 707.8L376.45 701.3M376.45 392.6L376.45 399.1M396.24 707.8L396.24 705.1M396.24 392.6L396.24 395.3M416.03 707.8L416.03 705.1M416.03 392.6L416.03 395.3M435.82 707.8L435.82 705.1M435.82 392.6L435.82 395.3M455.61 707.8L455.61 705.1M455.61 392.6L455.61 395.3M475.4 707.8L475.4 701.3M475.4 392.6L475.4 399.1M495.19 707.8L495.19 705.1M495.19 392.6L495.19 395.3M514.98 707.8L514.98 705.1M514.98 392.6L514.98 395.3M79.7 707.8L86.2 707.8M525 707.8L518.5 707.8M79.7 693.47L82.4 693.47M525 693.47L522.3 693.47M79.7 679.14L82.4 679.14M525 679.14L522.3 679.14M79.7 664.81L82.4 664.81M525 664.81L522.3 664.81M79.7 650.48L86.2 650.48M525 650.48L518.5 650.48M79.7 636.15L82.4 636.15M525 636.15L522.3 636.15M79.7 621.82L82.4 621.82M525 621.82L522.3 621.82M79.7 607.49L82.4 607.49M525 607.49L522.3 607.49M79.7 593.16L86.2 593.16M525 593.16L518.5 593.16M79.7 578.83L82.4 578.83M525 578.83L522.3 578.83M79.7 564.5L82.4 564.5M525 564.5L522.3 564.5M79.7 550.17L82.4 550.17M525 550.17L522.3 550.17M79.7 535.84L86.2 535.84M525 535.84L518.5 535.84M79.7 521.51L82.4 521.51M525 521.51L522.3 521.51M79.7 507.18L82.4 507.18M525 507.18L522.3 507.18M79.7 492.85L82.4 492.85M525 492.85L522.3 492.85M79.7 478.52L86.2 478.52M525 478.52L518.5 478.52M79.7 464.19L82.4 464.19M525 464.19L522.3 464.19M79.7 449.86L82.4 449.86M525 449.86L522.3 449.86M79.7 435.53L82.4 435.53M525 435.53L522.3 435.53M79.7 421.2L86.2 421.2M525 421.2L518.5 421.2M79.7 406.87L82.4 406.87M525 406.87L522.3 406.87" stroke="#222" stroke-width="0.95" fill="none"/>
<polyline points="148.87,421.2 153.81,421.77 158.76,422.41 163.71,423.1 168.65,423.85 173.6,424.65 178.55,425.5 183.5,426.43 188.44,427.46 193.39,428.56 198.34,429.72 203.29,430.91 208.23,432.09 213.18,433.24 218.13,434.36 223.08,435.48 228.02,436.61 232.97,437.75 237.92,438.9 242.87,440.07 247.81,441.26 252.76,442.43 257.71,443.56 262.66,444.7 267.61,445.88 272.55,447.15 277.5,448.56 282.45,450.15 297.29,456.88 312.13,464.91 326.98,472.64 341.82,480.81 356.66,489.43 361.61,492.5 371.5,499.3 381.4,507.53 390.3,515.98 400.2,525.81 405.15,530.76 410.09,535.82 415.04,541.04 419.99,546.48 424.94,552.18 429.88,558.35 434.83,564.9 439.78,571.45 444.73,577.95 449.67,584.56 454.62,591.41 459.57,598.66 464.52,606.44 466.99,610.49 469.46,614.64 471.94,618.92 474.41,623.33 476.88,627.91 479.36,632.68 481.83,637.64 484.31,642.82 486.78,648.25 488.26,651.88 488.76,653.14 489.25,654.41 489.75,655.67 490.24,656.93 490.74,658.19 491.23,659.45 491.73,660.71 492.22,661.97 492.72,663.24 493.21,664.5 493.71,665.76 494.2,667.01 494.7,668.27 495.19,669.51 495.68,670.76 496.18,672 496.67,673.24 497.17,674.49 497.66,675.73 498.16,676.98 498.65,678.23 499.15,679.48 499.64,680.74 500.14,682 500.63,683.27 501.13,684.56 501.62,685.85 502.12,687.15 502.61,688.46 503.11,689.79 503.6,691.13 504.1,692.5 504.59,693.9 505.08,695.35 505.58,696.9 506.07,698.46 506.57,699.98 507.06,701.4 507.56,702.68 508.05,703.81 508.55,704.75 509.04,705.54 509.54,706.15 510.03,706.64 510.53,707.05 511.02,707.35 511.52,707.55 512.01,707.68 512.51,707.75 513,707.79 513.5,707.8 513.99,707.8 514.49,707.8 514.98,707.8 515.47,707.8 515.97,707.8 516.46,707.8 516.96,707.8 517.45,707.8 517.95,707.8 518.44,707.8 518.94,707.8 519.43,707.8 519.93,707.8 520.42,707.8 520.92,707.8 521.41,707.8 521.91,707.8 522.4,707.8 522.9,707.8 523.39,707.8 526.26,707.8" fill="none" stroke="#333" stroke-width="1.0" marker-start="url(#c1)" marker-mid="url(#c1)" marker-end="url(#c1)"/>
<polyline points="148.87,422.35 153.81,422.92 158.76,423.55 163.71,424.24 168.65,424.99 173.6,425.79 178.55,426.63 183.5,427.55 188.44,428.58 193.39,429.68 198.34,430.84 203.29,432.02 208.23,433.19 213.18,434.34 218.13,435.45 223.08,436.57 228.02,437.7 232.97,438.83 237.92,439.98 242.87,441.14 247.81,442.33 252.76,443.49 257.71,444.62 262.66,445.75 267.61,446.93 272.55,448.2 277.5,449.6 282.45,451.18 297.29,457.88 312.13,465.88 326.98,473.58 341.82,481.72 356.66,490.3 361.61,493.36 371.5,500.13 381.4,508.33 390.3,516.75 400.2,526.54 405.15,531.46 410.09,536.5 415.04,541.71 419.99,547.12 424.94,552.8 429.88,558.95 434.83,565.47 439.78,571.99 444.73,578.47 449.67,585.05 454.62,591.88 459.57,599.1 464.52,606.81 466.99,610.83 469.46,614.94 471.94,619.19 474.41,623.58 476.88,628.13 479.36,632.86 481.83,637.8 484.31,642.96 486.78,648.36 488.26,651.98 488.76,653.24 489.25,654.49 489.75,655.75 490.24,657.01 490.74,658.27 491.23,659.53 491.73,660.79 492.22,662.05 492.72,663.31 493.21,664.57 493.71,665.82 494.2,667.08 494.7,668.33 495.19,669.58 495.68,670.82 496.18,672.06 496.67,673.3 497.17,674.54 497.66,675.78 498.16,677.03 498.65,678.27 499.15,679.52 499.64,680.78 500.14,682.04 500.63,683.31 501.13,684.59 501.62,685.88 502.12,687.18 502.61,688.49 503.11,689.81 503.6,691.15 504.1,692.52 504.59,693.92 505.08,695.37 505.58,696.92 506.07,698.48 506.57,699.99 507.06,701.41 507.56,702.69 508.05,703.81 508.55,704.76 509.04,705.54 509.54,706.15 510.03,706.64 510.53,707.05 511.02,707.35 511.52,707.55 512.01,707.68 512.51,707.75 513,707.79 513.5,707.8 513.99,707.8 514.49,707.8 514.98,707.8 515.47,707.8 515.97,707.8 516.46,707.8 516.96,707.8 517.45,707.8 517.95,707.8 518.44,707.8 518.94,707.8 519.43,707.8 519.93,707.8 520.42,707.8 520.92,707.8 521.41,707.8 521.91,707.8 522.4,707.8 522.9,707.8 523.39,707.8 526.26,707.8" fill="none" stroke="#5a14dc" stroke-width="1.0" marker-start="url(#c2)" marker-mid="url(#c2)" marker-end="url(#c2)"/>
<polyline points="148.87,423.78 153.81,424.35 158.76,424.98 163.71,425.67 168.65,426.41 173.6,427.2 178.55,428.04 183.5,428.96 188.44,429.98 193.39,431.08 198.34,432.23 203.29,433.4 208.23,434.57 213.18,435.71 218.13,436.82 223.08,437.94 228.02,439.05 232.97,440.18 237.92,441.32 242.87,442.48 247.81,443.66 252.76,444.82 257.71,445.94 262.66,447.07 267.61,448.24 272.55,449.5 277.5,450.89 282.45,452.47 297.29,459.14 312.13,467.09 326.98,474.75 341.82,482.86 356.66,491.39 361.61,494.43 371.5,501.18 381.4,509.33 390.3,517.71 400.2,527.45 405.15,532.35 410.09,537.36 415.04,542.54 419.99,547.93 424.94,553.58 429.88,559.69 434.83,566.19 439.78,572.68 444.73,579.12 449.67,585.67 454.62,592.46 459.57,599.64 464.52,607.28 466.99,611.25 469.46,615.33 471.94,619.53 474.41,623.88 476.88,628.4 479.36,633.1 481.83,638 484.31,643.13 486.78,648.5 488.26,652.1 488.76,653.36 489.25,654.61 489.75,655.86 490.24,657.11 490.74,658.37 491.23,659.62 491.73,660.88 492.22,662.14 492.72,663.4 493.21,664.65 493.71,665.91 494.2,667.16 494.7,668.41 495.19,669.65 495.68,670.89 496.18,672.13 496.67,673.37 497.17,674.61 497.66,675.85 498.16,677.09 498.65,678.33 499.15,679.58 499.64,680.83 500.14,682.09 500.63,683.36 501.13,684.64 501.62,685.93 502.12,687.22 502.61,688.53 503.11,689.85 503.6,691.19 504.1,692.55 504.59,693.95 505.08,695.39 505.58,696.94 506.07,698.5 506.57,700.01 507.06,701.43 507.56,702.7 508.05,703.82 508.55,704.77 509.04,705.54 509.54,706.15 510.03,706.64 510.53,707.05 511.02,707.35 511.52,707.55 512.01,707.68 512.51,707.75 513,707.79 513.5,707.8 513.99,707.8 514.49,707.8 514.98,707.8 515.47,707.8 515.97,707.8 516.46,707.8 516.96,707.8 517.45,707.8 517.95,707.8 518.44,707.8 518.94,707.8 519.43,707.8 519.93,707.8 520.42,707.8 520.92,707.8 521.41,707.8 521.91,707.8 522.4,707.8 522.9,707.8 523.39,707.8" fill="none" stroke="#9cba46" stroke-width="1.0" marker-start="url(#c3)" marker-mid="url(#c3)" marker-end="url(#c3)"/>
<polyline points="148.87,425.21 153.81,425.78 158.76,426.4 163.71,427.09 168.65,427.83 173.6,428.62 178.55,429.45 183.5,430.36 188.44,431.38 193.39,432.47 198.34,433.62 203.29,434.78 208.23,435.95 213.18,437.08 218.13,438.19 223.08,439.3 228.02,440.41 232.97,441.53 237.92,442.67 242.87,443.82 247.81,444.99 252.76,446.15 257.71,447.26 262.66,448.38 267.61,449.55 272.55,450.8 277.5,452.19 282.45,453.75 297.29,460.39 312.13,468.31 326.98,475.93 341.82,483.99 356.66,492.49 361.61,495.51 371.5,502.22 381.4,510.33 390.3,518.67 400.2,528.36 405.15,533.23 410.09,538.22 415.04,543.37 419.99,548.73 424.94,554.35 429.88,560.44 434.83,566.9 439.78,573.36 444.73,579.77 449.67,586.28 454.62,593.04 459.57,600.19 464.52,607.74 466.99,611.67 469.46,615.71 471.94,619.87 474.41,624.19 476.88,628.66 479.36,633.33 481.83,638.2 484.31,643.3 486.78,648.64 488.26,652.23 488.76,653.47 489.25,654.72 489.75,655.97 490.24,657.21 490.74,658.47 491.23,659.72 491.73,660.98 492.22,662.23 492.72,663.48 493.21,664.74 493.71,665.99 494.2,667.24 494.7,668.49 495.19,669.73 495.68,670.97 496.18,672.2 496.67,673.44 497.17,674.67 497.66,675.91 498.16,677.15 498.65,678.39 499.15,679.64 499.64,680.89 500.14,682.15 500.63,683.41 501.13,684.69 501.62,685.97 502.12,687.26 502.61,688.57 503.11,689.89 503.6,691.22 504.1,692.58 504.59,693.97 505.08,695.42 505.58,696.96 506.07,698.52 506.57,700.02 507.06,701.44 507.56,702.71 508.05,703.83 508.55,704.77 509.04,705.55 509.54,706.16 510.03,706.65 510.53,707.05 511.02,707.35 511.52,707.55 512.01,707.68 512.51,707.75 513,707.79 513.5,707.8 513.99,707.8 514.49,707.8 514.98,707.8 515.47,707.8 515.97,707.8 516.46,707.8 516.96,707.8 517.45,707.8 517.95,707.8 518.44,707.8 518.94,707.8 519.43,707.8 519.93,707.8 520.42,707.8 520.92,707.8 521.41,707.8 521.91,707.8 522.4,707.8 522.9,707.8 523.39,707.8" fill="none" stroke="#e00000" stroke-width="1.0" marker-start="url(#c4)" marker-mid="url(#c4)" marker-end="url(#c4)"/>
<text x="78" y="728.8" font-family="Liberation Serif, serif" font-size="22.3" text-anchor="middle">0</text>
<text x="176.95" y="728.8" font-family="Liberation Serif, serif" font-size="22.3" text-anchor="middle">10</text>
<text x="275.9" y="728.8" font-family="Liberation Serif, serif" font-size="22.3" text-anchor="middle">20</text>
<text x="374.85" y="728.8" font-family="Liberation Serif, serif" font-size="22.3" text-anchor="middle">30</text>
<text x="473.8" y="728.8" font-family="Liberation Serif, serif" font-size="22.3" text-anchor="middle">40</text>
<text x="78.3" y="715.1" font-family="Liberation Serif, serif" font-size="22.3" text-anchor="end">0</text>
<text x="78.3" y="657.78" font-family="Liberation Serif, serif" font-size="22.3" text-anchor="end">0.2</text>
<text x="78.3" y="600.46" font-family="Liberation Serif, serif" font-size="22.3" text-anchor="end">0.4</text>
<text x="78.3" y="543.14" font-family="Liberation Serif, serif" font-size="22.3" text-anchor="end">0.6</text>
<text x="78.3" y="485.82" font-family="Liberation Serif, serif" font-size="22.3" text-anchor="end">0.8</text>
<text x="78.3" y="428.5" font-family="Liberation Serif, serif" font-size="22.3" text-anchor="end">1</text>
<text x="293.2" y="751.7" font-family="Liberation Serif, serif" font-size="26.6" text-anchor="middle">T(K)</text>
<g transform="translate(34.9,641.2) rotate(-90)" font-family="Liberation Serif, serif"><text x="-0.8" y="0" font-size="28">λ</text><text x="14.3" y="-14.3" font-size="18">-2</text><text x="30" y="0" font-size="26.6" letter-spacing="0.3">(T,p)/</text><text x="92.5" y="0" font-size="28">λ</text><text x="106.3" y="-14.3" font-size="18">-2</text><text x="121.8" y="0" font-size="26.6" letter-spacing="0.42">(7K,p</text><text transform="translate(184.75,12.8) scale(1.25,1)" font-size="18">0</text><text x="194.4" y="0" font-size="26.6">)</text></g>
<polyline points="375.5,411 388.2,411 401,411" fill="none" stroke="#333" stroke-width="0.6" marker-mid="url(#c1)"/>
<text x="405.0" y="418.2" font-family="Liberation Serif, serif" font-size="19.4" fill="#000">p = 0.05 GPa</text>
<polyline points="375.5,437.3 388.2,437.3 401,437.3" fill="none" stroke="#5a14dc" stroke-width="0.6" marker-mid="url(#c2)"/>
<text x="405.0" y="444.4" font-family="Liberation Serif, serif" font-size="19.4" fill="#5a14dc">p = 0.17 GPa</text>
<polyline points="375.5,463.4 388.2,463.4 401,463.4" fill="none" stroke="#9cba46" stroke-width="0.6" marker-mid="url(#c3)"/>
<text x="405.0" y="470.8" font-family="Liberation Serif, serif" font-size="19.4" fill="#9cba46">p = 0.44 GPa</text>
<polyline points="375.5,489.8 388.2,489.8 401,489.8" fill="none" stroke="#e00000" stroke-width="0.6" marker-mid="url(#c4)"/>
<text x="405.0" y="497" font-family="Liberation Serif, serif" font-size="19.4" fill="#e00000">p = 0.85 GPa</text>
<text x="338.8" y="680" font-family="Liberation Serif, serif" font-size="21.3">Sr</text>
<text x="359.3" y="690.9" font-family="Liberation Serif, serif" font-size="15.2">0.9</text>
<text x="380.5" y="680" font-family="Liberation Serif, serif" font-size="21.3">La</text>
<text x="404" y="690.9" font-family="Liberation Serif, serif" font-size="15.2">0.1</text>
<text x="424.3" y="680" font-family="Liberation Serif, serif" font-size="21.3">CuO</text>
<text x="468.5" y="690.9" font-family="Liberation Serif, serif" font-size="15.2">2</text>
<clipPath id="cpj"><rect x="100.6" y="496.8" width="209.1" height="153"/></clipPath>
<polyline points="130.4,499.3 134.49,503.65 138.59,507.98 142.68,512.29 146.78,516.59 150.87,520.89 154.97,525.18 159.06,529.47 163.16,533.76 167.25,538.06 171.35,542.37 175.44,546.7 179.54,551.04 183.63,555.41 187.73,559.8 191.82,564.22 195.92,568.67 200.01,573.15 204.11,577.68 208.2,582.25 212.3,586.87 216.39,591.57 220.49,596.37 224.58,601.33 228.68,606.62 232.77,612.05 236.87,617.37 240.96,622.36 245.06,626.78 249.15,630.86 253.25,634.41 257.34,637.14 261.44,639.38 265.53,641.16 269.63,642.57 273.72,643.74 277.82,644.48 281.91,644.98 286.01,645.31 290.1,645.44 294.2,645.49 298.29,645.5 302.39,645.5 306.48,645.5" fill="none" stroke="#111" stroke-width="1.3" marker-start="url(#d1)" marker-mid="url(#d1)" marker-end="url(#d1)" clip-path="url(#cpj)"/>
<polyline points="130.32,499.38 134.41,503.73 138.51,508.06 142.6,512.37 146.7,516.67 150.79,520.97 154.89,525.26 158.98,529.55 163.08,533.84 167.17,538.14 171.27,542.45 175.36,546.78 179.46,551.12 183.55,555.49 187.65,559.88 191.74,564.3 195.84,568.75 199.93,573.23 204.03,577.76 208.12,582.33 212.22,586.95 216.31,591.65 220.41,596.45 224.5,601.41 228.6,606.7 232.69,612.13 236.79,617.45 240.88,622.44 244.98,626.86 249.07,630.94 253.17,634.49 257.26,637.22 261.36,639.46 265.45,641.24 269.55,642.65 273.64,643.82 277.74,644.56 281.83,645.06 285.93,645.39 290.02,645.52 294.12,645.57 298.21,645.58 302.31,645.58 306.4,645.58" fill="none" stroke="#5a14dc" stroke-width="1.0" marker-start="url(#d2)" marker-mid="url(#d2)" marker-end="url(#d2)" clip-path="url(#cpj)"/>
<polyline points="130.2,499.5 134.29,503.85 138.39,508.18 142.48,512.49 146.58,516.79 150.67,521.09 154.77,525.38 158.86,529.67 162.96,533.96 167.05,538.26 171.15,542.57 175.24,546.9 179.34,551.24 183.43,555.61 187.53,560 191.62,564.42 195.72,568.87 199.81,573.35 203.91,577.88 208,582.45 212.1,587.07 216.19,591.77 220.29,596.57 224.38,601.53 228.48,606.82 232.57,612.25 236.67,617.57 240.76,622.56 244.86,626.98 248.95,631.06 253.05,634.61 257.14,637.34 261.24,639.58 265.33,641.36 269.43,642.77 273.52,643.94 277.62,644.68 281.71,645.18 285.81,645.51 289.9,645.64 294,645.69 298.09,645.7 302.19,645.7 306.28,645.7" fill="none" stroke="#9cba46" stroke-width="0.8" marker-start="url(#d3)" marker-mid="url(#d3)" marker-end="url(#d3)" clip-path="url(#cpj)"/>
<polyline points="130.1,499.6 134.19,503.95 138.29,508.28 142.38,512.59 146.48,516.89 150.57,521.19 154.67,525.48 158.76,529.77 162.86,534.06 166.95,538.36 171.05,542.67 175.14,547 179.24,551.34 183.33,555.71 187.43,560.1 191.52,564.52 195.62,568.97 199.71,573.45 203.81,577.98 207.9,582.55 212,587.17 216.09,591.87 220.19,596.67 224.28,601.63 228.38,606.92 232.47,612.35 236.57,617.67 240.66,622.66 244.76,627.08 248.85,631.16 252.95,634.71 257.04,637.44 261.14,639.68 265.23,641.46 269.33,642.87 273.42,644.04 277.52,644.78 281.61,645.28 285.71,645.61 289.8,645.74 293.9,645.79 297.99,645.8 302.09,645.8 306.18,645.8" fill="none" stroke="#b41414" stroke-width="0.75" marker-start="url(#d4)" marker-mid="url(#d4)" marker-end="url(#d4)" clip-path="url(#cpj)"/>
<rect x="102.6" y="499.3" width="204.6" height="148" fill="none" stroke="#3a3a3a" stroke-width="0.85"/>
<path d="M102.45 647.3L102.45 643.3M102.45 499.3L102.45 503.3M110.64 647.3L110.64 645.5M110.64 499.3L110.64 501.1M118.83 647.3L118.83 645.5M118.83 499.3L118.83 501.1M127.02 647.3L127.02 645.5M127.02 499.3L127.02 501.1M135.21 647.3L135.21 645.5M135.21 499.3L135.21 501.1M143.4 647.3L143.4 643.3M143.4 499.3L143.4 503.3M151.59 647.3L151.59 645.5M151.59 499.3L151.59 501.1M159.78 647.3L159.78 645.5M159.78 499.3L159.78 501.1M167.97 647.3L167.97 645.5M167.97 499.3L167.97 501.1M176.16 647.3L176.16 645.5M176.16 499.3L176.16 501.1M184.35 647.3L184.35 643.3M184.35 499.3L184.35 503.3M192.54 647.3L192.54 645.5M192.54 499.3L192.54 501.1M200.73 647.3L200.73 645.5M200.73 499.3L200.73 501.1M208.92 647.3L208.92 645.5M208.92 499.3L208.92 501.1M217.11 647.3L217.11 645.5M217.11 499.3L217.11 501.1M225.3 647.3L225.3 643.3M225.3 499.3L225.3 503.3M233.49 647.3L233.49 645.5M233.49 499.3L233.49 501.1M241.68 647.3L241.68 645.5M241.68 499.3L241.68 501.1M249.87 647.3L249.87 645.5M249.87 499.3L249.87 501.1M258.06 647.3L258.06 645.5M258.06 499.3L258.06 501.1M266.25 647.3L266.25 643.3M266.25 499.3L266.25 503.3M274.44 647.3L274.44 645.5M274.44 499.3L274.44 501.1M282.63 647.3L282.63 645.5M282.63 499.3L282.63 501.1M290.82 647.3L290.82 645.5M290.82 499.3L290.82 501.1M299.01 647.3L299.01 645.5M299.01 499.3L299.01 501.1M307.2 647.3L307.2 643.3M307.2 499.3L307.2 503.3M102.6 647.3L106.6 647.3M307.2 647.3L303.2 647.3M102.6 637.43L104.4 637.43M307.2 637.43L305.4 637.43M102.6 627.57L104.4 627.57M307.2 627.57L305.4 627.57M102.6 617.7L104.4 617.7M307.2 617.7L305.4 617.7M102.6 607.83L104.4 607.83M307.2 607.83L305.4 607.83M102.6 597.97L106.6 597.97M307.2 597.97L303.2 597.97M102.6 588.1L104.4 588.1M307.2 588.1L305.4 588.1M102.6 578.23L104.4 578.23M307.2 578.23L305.4 578.23M102.6 568.37L104.4 568.37M307.2 568.37L305.4 568.37M102.6 558.5L104.4 558.5M307.2 558.5L305.4 558.5M102.6 548.63L106.6 548.63M307.2 548.63L303.2 548.63M102.6 538.77L104.4 538.77M307.2 538.77L305.4 538.77M102.6 528.9L104.4 528.9M307.2 528.9L305.4 528.9M102.6 519.03L104.4 519.03M307.2 519.03L305.4 519.03M102.6 509.17L104.4 509.17M307.2 509.17L305.4 509.17M102.6 499.3L106.6 499.3M307.2 499.3L303.2 499.3" stroke="#333" stroke-width="0.55" fill="none"/>
<text x="142.4" y="662.0" font-family="Liberation Serif, serif" font-size="16.8" text-anchor="middle">42</text>
<text x="224.3" y="662.0" font-family="Liberation Serif, serif" font-size="16.8" text-anchor="middle">43</text>
<text x="306.2" y="662.0" font-family="Liberation Serif, serif" font-size="16.8" text-anchor="middle">44</text>
<text x="201.3" y="676.4" font-family="Liberation Serif, serif" font-size="17.4" text-anchor="middle">T(K)</text>
</svg>
</body></html>
